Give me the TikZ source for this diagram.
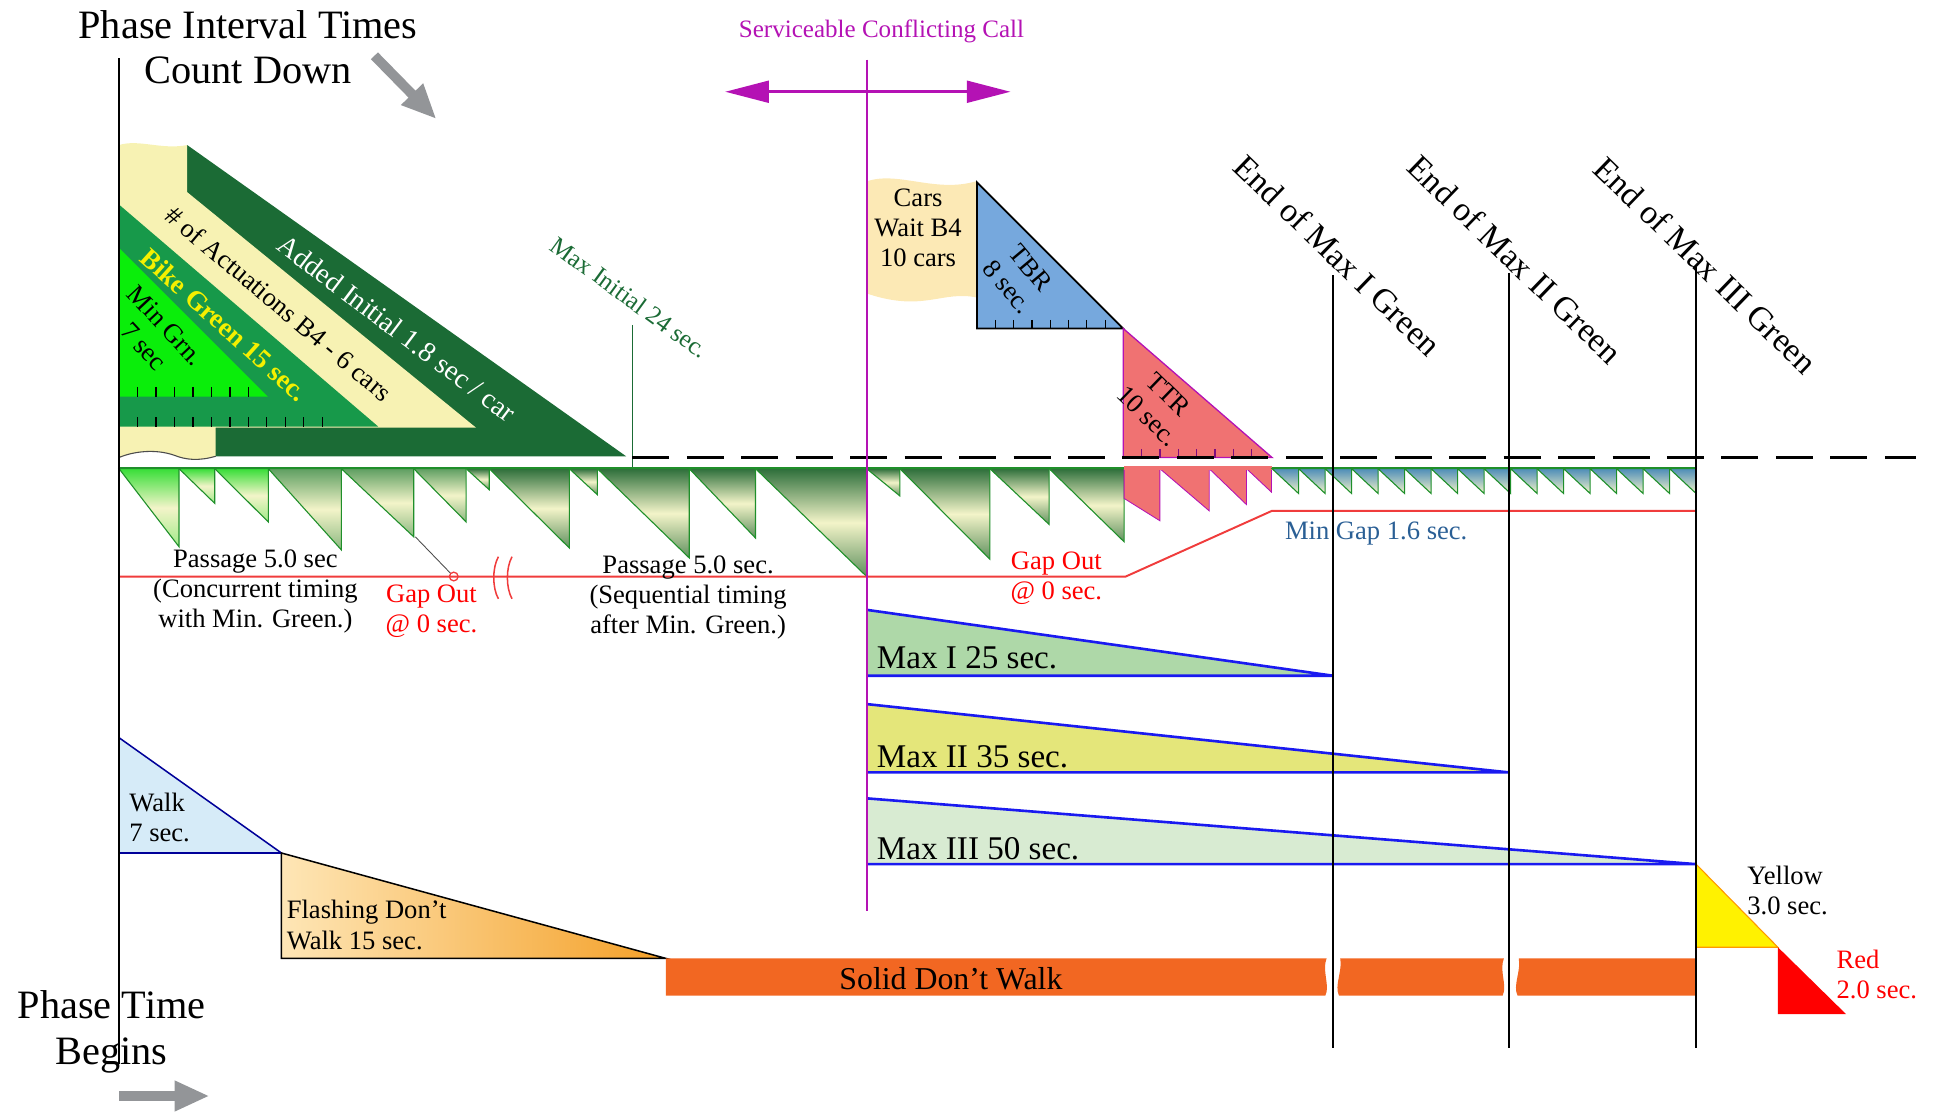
\documentclass[tikz,border=0pt]{standalone}
\usepackage{fontspec}
\setmainfont{Liberation Serif}
\usetikzlibrary{arrows.meta}
\definecolor{drkgrn}{HTML}{1B6B35}
\definecolor{midgrn}{HTML}{17994A}
\definecolor{brtgrn}{HTML}{0AEE0A}
\definecolor{creamy}{HTML}{F7F2B3}
\definecolor{brtop}{HTML}{38DE38}
\definecolor{midtop}{HTML}{5F9F62}
\definecolor{drktop}{HTML}{2E6F3B}
\definecolor{tealtop}{HTML}{4E8DB8}
\definecolor{toothpale}{HTML}{F3F4C9}
\definecolor{toothgrn}{HTML}{1F8F2A}
\definecolor{callpurple}{HTML}{B412B4}
\definecolor{gapred}{HTML}{F03C3C}
\definecolor{mingap}{HTML}{2A5F95}
\definecolor{carsfill}{HTML}{FCE9B5}
\definecolor{tbrblue}{HTML}{76A8DD}
\definecolor{ttrred}{HTML}{F07272}
\definecolor{maxone}{HTML}{AED8A8}
\definecolor{maxtwo}{HTML}{E4E67A}
\definecolor{maxthree}{HTML}{D8EBD2}
\definecolor{maxblue}{HTML}{1A1AF0}
\definecolor{walkblue}{HTML}{D6EBF8}
\definecolor{fdwlight}{HTML}{FEE6B6}
\definecolor{fdwdark}{HTML}{F4A028}
\definecolor{sdwfill}{HTML}{F26722}
\definecolor{arrowgray}{HTML}{939598}
\definecolor{bikeyel}{HTML}{F5F000}

\begin{document}
\begin{tikzpicture}[x=0.02cm, y=-0.02cm,
  txt/.style={inner sep=0pt, font=\fontsize{12.2}{13.8}\selectfont},
  bigtxt/.style={inner sep=0pt, font=\fontsize{18.5}{21}\selectfont, align=center},
  endtxt/.style={inner sep=0pt, font=\fontsize{15.5}{17}\selectfont, rotate=-44},
  maxtxt/.style={inner sep=0pt, font=\fontsize{15.2}{17}\selectfont, anchor=base west},
  tooth/.style={draw=toothgrn, line width=0.5pt},
  tick/.style={line width=0.6pt},
  vline/.style={line width=0.7pt},
  fat/.style={arrowgray, line width=4.5pt, -{Triangle[length=16pt,width=13pt]}},
  callarrow/.style={callpurple, line width=1.2pt,
    {Triangle[length=20pt,width=10pt]}-{Triangle[length=20pt,width=10pt]}}]

  \useasboundingbox (0,0) rectangle (1568,897);

  % headings
  \node[bigtxt] (pit) at (200,38) {Phase Interval Times\\Count Down};
  \node[bigtxt] (ptb) at (90,832) {Phase Time\\Begins};
  \coordinate (cdA) at (302,45);
  \coordinate (cdB) at (352,96);
  \draw[fat] (cdA) -- (cdB);
  \coordinate (ptA) at (96,884);
  \coordinate (ptB) at (169,884);
  \draw[fat] (ptA) -- (ptB);

  % initial green stack
  \fill[drkgrn] (151,117) -- (505,368) -- (151,368) -- cycle;
  \fill[creamy] (96,117) .. controls (112,112) and (130,121) .. (151,117)
    -- (151,155) -- (384,345) -- (174,345) -- (174,368)
    .. controls (160,372) and (150,371) .. (140,367)
    .. controls (125,362) and (108,364) .. (96,369) -- cycle;
  \draw[black!70, line width=0.5pt] (174,368)
    .. controls (160,372) and (150,371) .. (140,367)
    .. controls (125,362) and (108,364) .. (96,369);
  \fill[midgrn] (96,165) -- (305,344) -- (96,344) -- cycle;
  \fill[brtgrn] (96,200) -- (216,320) -- (96,320) -- cycle;
  \foreach \i in {1,...,7}
    \draw[tick] (96+14.9*\i,312) -- ++(0,8);
  \foreach \i in {1,...,11}
    \draw[tick] (96+14.9*\i,336.5) -- ++(0,7.5);
  \node[txt, rotate=-37, text=white, font=\fontsize{12.9}{14}\selectfont] (added) at (320,265) {Added Initial 1.8 sec / car};
  \node[txt, rotate=-40] (actu) at (225,245) {\# of Actuations B4 - 6 cars};
  \node[txt, rotate=-42, text=bikeyel, font=\fontsize{12.5}{14}\bfseries] (bike) at (181,262) {Bike Green 15 sec.};
  \node[txt, rotate=-47, align=center] (mingrn) at (125,271) {Min Grn.\\7 sec};
  \node[inner sep=0pt, font=\fontsize{11.5}{13}\selectfont, text=drkgrn, rotate=-36] (maxinit) at (508,240) {Max Initial 24 sec.};
  \draw[drkgrn, line width=0.7pt] (510,262) -- (510,388);

  % passage timers
  \foreach \xa/\xb/\yb in {96/144.4/441, 144.4/173.2/406, 173.2/216.4/421}
    \draw[tooth, top color=brtop, bottom color=brtop!45!toothpale, middle color=toothpale]
      (\xa,378) -- (\xb,\yb) -- (\xb,378) -- cycle;
  \foreach \xa/\xb/\yb in {216.4/275.3/443.5, 275.3/333.7/433, 333.7/376/421}
    \draw[tooth, top color=midtop, bottom color=midtop!70!toothpale, middle color=toothpale]
      (\xa,378) -- (\xb,\yb) -- (\xb,378) -- cycle;
  \foreach \xa/\xb/\yb in {376/394.6/395, 394.6/459.2/442, 459.2/481.8/399,
      481.8/555.9/450, 555.9/609.4/434, 609.4/699/465, 699/725.8/400,
      725.8/798.4/451, 798.4/846.2/423, 846.2/906.7/437}
    \draw[tooth, top color=drktop, bottom color=drktop!75!toothpale, middle color=toothpale]
      (\xa,378) -- (\xb,\yb) -- (\xb,378) -- cycle;
  \draw[callpurple, line width=0.4pt, fill=ttrred] (906.7,378) -- (935.5,378) -- (935.5,420) -- (906.7,402) -- cycle;
  \foreach \xa/\xb/\yb in {935.5/975.3/412, 975.3/1005.4/407, 1005.4/1025.6/397}
    \draw[callpurple, line width=0.4pt, fill=ttrred] (\xa,378) -- (\xb,\yb) -- (\xb,378) -- cycle;
  \fill[ttrred] (906.7,375.5) rectangle (1025.6,379);
  \foreach \i in {0,...,15} {
    \pgfmathsetmacro{\xa}{1026+21.375*\i}
    \pgfmathsetmacro{\xb}{1026+21.375*(\i+1)}
    \draw[tooth, top color=tealtop, bottom color=toothpale] (\xa,378) -- (\xb,398) -- (\xb,378) -- cycle;
  }
  \draw[toothgrn, line width=1.3pt] (96,377.5) -- (906.7,377.5);
  \draw[toothgrn, line width=1.1pt] (1025.6,377.5) -- (1368,377.5);

  % gap out line
  \draw[gapred, line width=0.9pt] (96,465) -- (908,465) -- (1026,412) -- (1368,412);
  \draw[gapred, line width=0.7pt] (402,449) .. controls (397,458) and (397,474) .. (402,483);
  \draw[gapred, line width=0.7pt] (413,449) .. controls (408,458) and (408,474) .. (413,483);
  \draw[gray!60!black, line width=0.4pt] (335,433) -- (363.5,462.5);
  \draw[gapred, line width=0.6pt] (366,465) circle (2pt);
  \node[txt, align=center] (pass1) at (206,477) {Passage 5.0 sec\\(Concurrent timing\\with Min. Green.)};
  \node[txt, align=center, text=red] (gap1) at (348,493) {Gap Out\\@ 0 sec.};
  \node[txt, align=center] (pass2) at (555,482) {Passage 5.0 sec.\\(Sequential timing\\after Min. Green.)};
  \node[txt, align=center, text=red] (gap2) at (852,466) {Gap Out\\@ 0 sec.};

  % cars waiting, TBR and TTR
  \fill[carsfill] (700,146) .. controls (725,138) and (755,156) .. (788,146)
    -- (788,240) .. controls (760,234) and (745,252) .. (700,237) -- cycle;
  \node[txt, align=center, anchor=north] (cars) at (740.5,152) {Cars\\Wait B4\\10 cars};
  \draw[fill=tbrblue, line width=0.8pt] (788,147) -- (906,265) -- (788,265) -- cycle;
  \foreach \i in {1,...,7}
    \draw[tick] (788+14.77*\i,258) -- ++(0,7);
  \node[txt, rotate=-50, align=center] (tbr) at (822,224) {TBR\\8 sec.};
  \draw[fill=ttrred, draw=callpurple, line width=0.6pt] (906,265) -- (1026,369) -- (906,369) -- cycle;
  \foreach \i in {1,...,7}
    \draw[tick, callpurple!70!black] (906+14.8*\i,362) -- ++(0,7);
  \node[txt, rotate=-44, align=center] (ttr) at (934,327) {TTR\\10 sec.};
  \draw[line width=1pt, dash pattern=on 17pt off 8pt] (510,369) -- (1545,369);
  \node[txt, text=mingap] (mingap) at (1110,430) {Min Gap 1.6 sec.};

  % max green timers
  \fill[maxone] (700,492) -- (1075,545) -- (700,545) -- cycle;
  \draw[maxblue, line width=1.2pt] (700,492) -- (1075,545) -- (700,545);
  \fill[maxtwo] (700,568) -- (1217,623) -- (700,623) -- cycle;
  \draw[maxblue, line width=1.2pt] (700,568) -- (1217,623) -- (700,623);
  \fill[maxthree] (700,644) -- (1368,697) -- (700,697) -- cycle;
  \draw[maxblue, line width=1.2pt] (700,644) -- (1368,697) -- (700,697);
  \node[maxtxt] (maxI) at (707,539) {Max I 25 sec.};
  \node[maxtxt] (maxII) at (707,619) {Max II 35 sec.};
  \node[maxtxt] (maxIII) at (707,693) {Max III 50 sec.};

  % pedestrian intervals
  \fill[walkblue] (96,595) -- (227,688) -- (96,688) -- cycle;
  \draw[blue!60!black, line width=0.7pt] (96,595) -- (227,688) -- (96,688);
  \node[txt, align=left, anchor=north west] (walk) at (104,639) {Walk\\7 sec.};
  \draw[left color=fdwlight, right color=fdwdark, line width=0.7pt] (227,688) -- (537,773) -- (227,773) -- cycle;
  \node[txt, align=left, anchor=north west] (fdw) at (231,726) {Flashing Don't\\Walk 15 sec.};
  \fill[sdwfill] (537,773) -- (1070,773) .. controls (1066,783) and (1073,795) .. (1069,803) -- (537,803) -- cycle;
  \fill[sdwfill] (1081,773) -- (1213,773) .. controls (1209,783) and (1216,795) .. (1212,803)
    -- (1080,803) .. controls (1076,795) and (1083,783) .. (1081,773) -- cycle;
  \fill[sdwfill] (1225,773) -- (1368,773) -- (1368,803) -- (1224,803)
    .. controls (1220,795) and (1227,783) .. (1225,773) -- cycle;
  \node[inner sep=0pt, font=\fontsize{14.6}{16}\selectfont] (sdw) at (767,789) {Solid Don't Walk};

  % change interval
  \draw[fill=yellow, draw=orange!80!yellow, line width=0.5pt] (1368,697) -- (1434,764) -- (1368,764) -- cycle;
  \fill[red] (1434,764) -- (1489,818) -- (1434,818) -- cycle;
  \node[txt, align=left, anchor=north west] (yel) at (1409,698) {Yellow\\3.0 sec.};
  \node[txt, align=left, anchor=north west, text=red] (redl) at (1481,766) {Red\\2.0 sec.};

  % time lines
  \draw[vline] (96,47) -- (96,858);
  \draw[vline] (1075,222) -- (1075,845);
  \draw[vline] (1217,220) -- (1217,845);
  \draw[vline] (1368,215) -- (1368,845);
  \node[endtxt] (endI) at (1079,206) {End of Max I Green};
  \node[endtxt] (endII) at (1222,209) {End of Max II Green};
  \node[endtxt] (endIII) at (1376,214) {End of Max III Green};

  % serviceable conflicting call
  \draw[callpurple, line width=0.8pt] (699,48) -- (699,735);
  \node[inner sep=0pt, font=\fontsize{11.5}{13}\selectfont, text=callpurple] (scc) at (711,25) {Serviceable Conflicting Call};
  \coordinate (sccL) at (585,74);
  \coordinate (sccR) at (815,74);
  \draw[callarrow] (sccL) -- (sccR);
\end{tikzpicture}
\end{document}
